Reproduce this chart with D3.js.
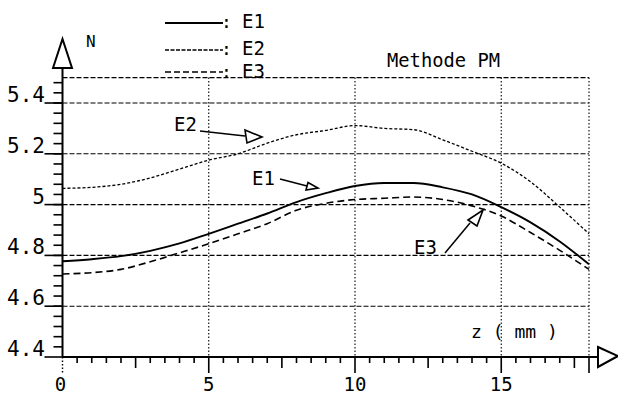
<!DOCTYPE html>
<html><head><meta charset="utf-8">
<script src="https://cdn.jsdelivr.net/npm/d3@7"></script>
<style>
html,body{margin:0;padding:0;background:#fff;}
text{font-family:"DejaVu Sans Mono",monospace;fill:#000;}
</style></head>
<body><svg id="c" width="618" height="396"></svg>
<script>
const zValues = [0,1,2,3,4,5,6,7,8,9,10,11,12,13,14,15,16,17,18];
const E1 = [4.777,4.785,4.797,4.818,4.847,4.885,4.925,4.965,5.010,5.045,5.073,5.085,5.085,5.068,5.040,4.990,4.930,4.855,4.765];
const E2 = [5.064,5.068,5.080,5.105,5.140,5.175,5.200,5.242,5.275,5.292,5.311,5.300,5.295,5.255,5.210,5.163,5.090,4.990,4.885];
const E3 = [4.727,4.732,4.745,4.775,4.810,4.846,4.885,4.925,4.978,5.005,5.020,5.025,5.030,5.020,4.995,4.955,4.890,4.820,4.745];
const seriesNames = ["E1","E2","E3"];
const xTickLabels = [0,5,10,15];
const yTickLabels = [4.4,4.6,4.8,5,5.2,5.4];
const yGrid = [4.6,4.8,5,5.2,5.4,5.5];
const xGrid = [5,10,15,18];

const svg = d3.select("#c");
const x = d3.scaleLinear().domain([0,18]).range([62.5,589]);
const y = d3.scaleLinear().domain([4.4,5.5]).range([357,77.6]);
const X0 = x(0), Y0 = y(4.4);

// grid
svg.append("g").selectAll("line").data(yGrid).join("line")
  .attr("x1",X0).attr("x2",x(18)).attr("y1",d=>y(d)).attr("y2",d=>y(d))
  .attr("stroke","#000").attr("stroke-width",1.1).attr("stroke-dasharray","5,2");
svg.append("g").selectAll("line").data(xGrid).join("line")
  .attr("x1",d=>x(d)).attr("x2",d=>x(d)).attr("y1",y(5.5)).attr("y2",Y0)
  .attr("stroke","#000").attr("stroke-width",1.1).attr("stroke-dasharray","1.5,2");

// ticks
function tickRects(segs,w,dash){
  svg.append("g").selectAll("rect").data(segs).join("rect")
    .attr("x",s=>Math.min(s[0],s[2])-(s[0]===s[2]?w/2:0))
    .attr("y",s=>Math.min(s[1],s[3])-(s[1]===s[3]?w/2:0))
    .attr("width",s=>s[0]===s[2]?w:Math.abs(s[2]-s[0]))
    .attr("height",s=>s[1]===s[3]?w:Math.abs(s[3]-s[1]))
    .attr("fill","#000");
}
const xMinor = d3.range(1,36).map(k=>k*0.5).filter(v=>v%2.5!==0);
tickRects(xMinor.map(v=>[x(v),Y0,x(v),Y0+6]),1.6);
tickRects([2.5,7.5,12.5,17.5].map(v=>[x(v),Y0,x(v),Y0+11]),1.6);
tickRects([5,10,15,18].map(v=>[x(v),Y0,x(v),Y0+16]),1.6);
svg.append("line").attr("x1",X0).attr("x2",X0).attr("y1",Y0).attr("y2",Y0+16)
  .attr("stroke","#000").attr("stroke-width",1.4).attr("stroke-dasharray","1.5,2");
const yMinor = d3.range(1,28).map(k=>4.4+k*0.04);
tickRects(yMinor.map(v=>[X0-9,y(v),X0,y(v)]),1.6);
tickRects(yTickLabels.map(v=>[X0-18,y(v),X0,y(v)]),1.6);

// axis lines
svg.append("line").attr("x1",X0).attr("x2",598).attr("y1",Y0).attr("y2",Y0)
  .attr("stroke","#000").attr("stroke-width",2);
svg.append("line").attr("x1",X0).attr("x2",X0).attr("y1",68).attr("y2",Y0)
  .attr("stroke","#000").attr("stroke-width",2);
// arrows
svg.append("path").attr("d",`M53,68 L${X0},39 L72,68 Z`).attr("fill","#fff").attr("stroke","#000").attr("stroke-width",2);
svg.append("path").attr("d",`M598,347 L618,356 L598,367 Z`).attr("fill","#fff").attr("stroke","#000").attr("stroke-width",2);

// tick labels
svg.append("g").selectAll("text").data(yTickLabels).join("text")
  .attr("x",45).attr("y",d=>y(d)-1).attr("text-anchor","end")
  .style("font-size","21px").text(d=>String(d));
svg.append("g").selectAll("text").data(xTickLabels).join("text")
  .attr("x",d=>x(d)-(d===0?2:0)).attr("y",391).attr("text-anchor","middle")
  .style("font-size","19px").text(d=>String(d));

// curves
const line = d3.line().x((d,i)=>x(zValues[i])).y(d=>y(d)).curve(d3.curveMonotoneX);
const styles = {E1:{dash:null,w:1.9},E2:{dash:"3,2",w:1.3},E3:{dash:"7,4",w:1.6}};
const data = {E1,E2,E3};
seriesNames.forEach(n=>{
  svg.append("path").attr("d",line(data[n])).attr("fill","none").attr("stroke","#000")
    .attr("stroke-width",styles[n].w).attr("stroke-dasharray",styles[n].dash);
});

// legend
const legY = [23,50,72], legTY=[28,55,78];
const legDash = {E1:null,E2:"4,1.5",E3:"6,3"};
seriesNames.forEach((n,i)=>{
  svg.append("line").attr("x1",165).attr("x2",223).attr("y1",legY[i]).attr("y2",legY[i])
    .attr("stroke","#000").attr("stroke-width",n==="E1"?1.9:1.5).attr("stroke-dasharray",legDash[n]);
  svg.append("text").attr("x",221).attr("y",legTY[i]).style("font-size","18px").text(":");
  svg.append("text").attr("x",242).attr("y",legTY[i]).style("font-size","19px").text(n);
});

// titles
svg.append("text").attr("x",86).attr("y",47).style("font-size","16px").text("N");
svg.append("text").attr("x",387).attr("y",67).style("font-size","20px")
  .attr("textLength",113).attr("lengthAdjust","spacingAndGlyphs").text("Methode PM");
svg.append("text").attr("x",471).attr("y",338).style("font-size","18px")
  .attr("textLength",87).attr("lengthAdjust","spacingAndGlyphs").text("z ( mm )");

// annotations
function annot(label,tx,ty,l,tri){
  svg.append("text").attr("x",tx).attr("y",ty).style("font-size","19px").text(label);
  svg.append("line").attr("x1",l[0]).attr("y1",l[1]).attr("x2",l[2]).attr("y2",l[3])
    .attr("stroke","#000").attr("stroke-width",1.5);
  svg.append("path").attr("d","M"+tri.map(p=>p.join(",")).join("L")+"Z")
    .attr("fill","#fff").attr("stroke","#000").attr("stroke-width",1.6);
}
annot("E2",174,131,[200,131,245,136],[[245,130],[262,137],[247,143]]);
annot("E1",252,185,[280,179,307,186],[[308,182.5],[318,188],[306,190]]);
annot("E3",414,254,[445,253,470,223],[[468,220],[483,210],[477,226]]);
</script></body></html>
